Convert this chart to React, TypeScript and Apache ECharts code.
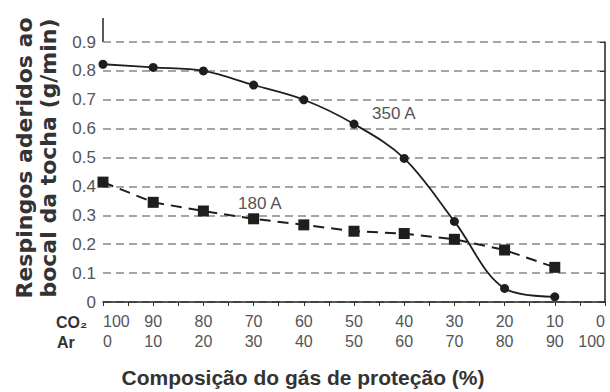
import React, { useEffect, useRef } from "react";
import * as echarts from "echarts";

const co2Percent = [100, 90, 80, 70, 60, 50, 40, 30, 20, 10];
const spatter350A = [0.823, 0.812, 0.8, 0.751, 0.7, 0.616, 0.497, 0.279, 0.047, 0.018];
const spatter180A = [0.415, 0.345, 0.315, 0.288, 0.267, 0.245, 0.237, 0.217, 0.18, 0.12];
const seriesNames = ["350 A", "180 A"];
const yTitle = "Respingos aderidos ao\nbocal da tocha (g/min)";
const xTitle = "Composição do gás de proteção (%)";

const FONT = "'Liberation Sans', Arial, Helvetica, sans-serif";

export default function App() {
  const ref = useRef<HTMLDivElement>(null);
  useEffect(() => {
    if (!ref.current) return;
    const chart = echarts.init(ref.current, null, { renderer: "svg" });
    const d350 = co2Percent.map((c, i) => [c, spatter350A[i]]);
    const d180 = co2Percent.map((c, i) => [c, spatter180A[i]]);
    chart.setOption({
      animation: false,
      backgroundColor: "#ffffff",
      grid: { left: 103, right: 5, top: 42, bottom: 90, containLabel: false },
      xAxis: {
        type: "value",
        inverse: true,
        min: 0,
        max: 100,
        interval: 5,
        axisLine: { show: true, lineStyle: { color: "#222", width: 1.5 } },
        axisTick: { show: true, length: 4, lineStyle: { color: "#333", width: 1 } },
        splitLine: { show: false },
        axisLabel: {
          color: "#555",
          fontFamily: FONT,
          fontSize: 16,
          lineHeight: 20,
          margin: 9,
          alignMinLabel: "right",
          alignMaxLabel: "left",
          formatter: (v: number) => (v % 10 === 0 ? `${v}\n${100 - v}` : ""),
        },
      },
      yAxis: {
        type: "value",
        min: 0,
        max: 0.9,
        interval: 0.1,
        axisLine: { show: true, lineStyle: { color: "#222", width: 1.5 } },
        axisTick: { show: true, length: 5, lineStyle: { color: "#333", width: 1 } },
        axisLabel: { color: "#555", fontFamily: FONT, fontSize: 17, margin: 7 },
        splitLine: {
          show: true,
          lineStyle: { color: "#888", width: 1.5, type: [8, 5] },
        },
      },
      graphic: [
        {
          type: "line",
          shape: { x1: 103, y1: 18, x2: 103, y2: 42 },
          style: { stroke: "#222", lineWidth: 1.5 },
          silent: true,
        },
        {
          type: "text",
          x: 36,
          y: 158,
          rotation: Math.PI / 2,
          style: {
            text: yTitle,
            font: `bold 22px 'DejaVu Sans', Verdana, sans-serif`,
            fill: "#333",
            textAlign: "center",
            textVerticalAlign: "middle",
            lineHeight: 24,
          },
        },
        {
          type: "text",
          x: 303,
          y: 377,
          style: {
            text: xTitle,
            font: `bold 21px ${FONT}`,
            fill: "#333",
            textAlign: "center",
            textVerticalAlign: "middle",
          },
        },
        {
          type: "text",
          x: 56,
          y: 322,
          style: {
            text: "CO₂",
            font: `bold 16px ${FONT}`,
            fill: "#333",
            textAlign: "left",
            textVerticalAlign: "middle",
          },
        },
        {
          type: "text",
          x: 57,
          y: 342,
          style: {
            text: "Ar",
            font: `bold 16px ${FONT}`,
            fill: "#333",
            textAlign: "left",
            textVerticalAlign: "middle",
          },
        },
        {
          type: "text",
          x: 372,
          y: 113,
          style: {
            text: seriesNames[0],
            font: `17px ${FONT}`,
            fill: "#555",
            textAlign: "left",
            textVerticalAlign: "middle",
          },
        },
        {
          type: "text",
          x: 238,
          y: 203,
          style: {
            text: seriesNames[1],
            font: `17px ${FONT}`,
            fill: "#555",
            textAlign: "left",
            textVerticalAlign: "middle",
          },
        },
      ],
      series: [
        {
          name: seriesNames[0],
          type: "line",
          data: d350,
          smooth: 0.35,
          symbol: "circle",
          symbolSize: 9,
          lineStyle: { color: "#1e1e1e", width: 1.8 },
          itemStyle: { color: "#1e1e1e" },
          z: 3,
        },
        {
          name: seriesNames[1],
          type: "line",
          data: d180,
          symbol: "rect",
          symbolSize: 11,
          lineStyle: { color: "#1e1e1e", width: 2, type: [11, 7] },
          itemStyle: { color: "#1e1e1e" },
          z: 2,
        },
      ],
    });
    return () => chart.dispose();
  }, []);
  return <div ref={ref} style={{ width: 610, height: 392, position: "absolute", left: 0, top: 0 }} />;
}
